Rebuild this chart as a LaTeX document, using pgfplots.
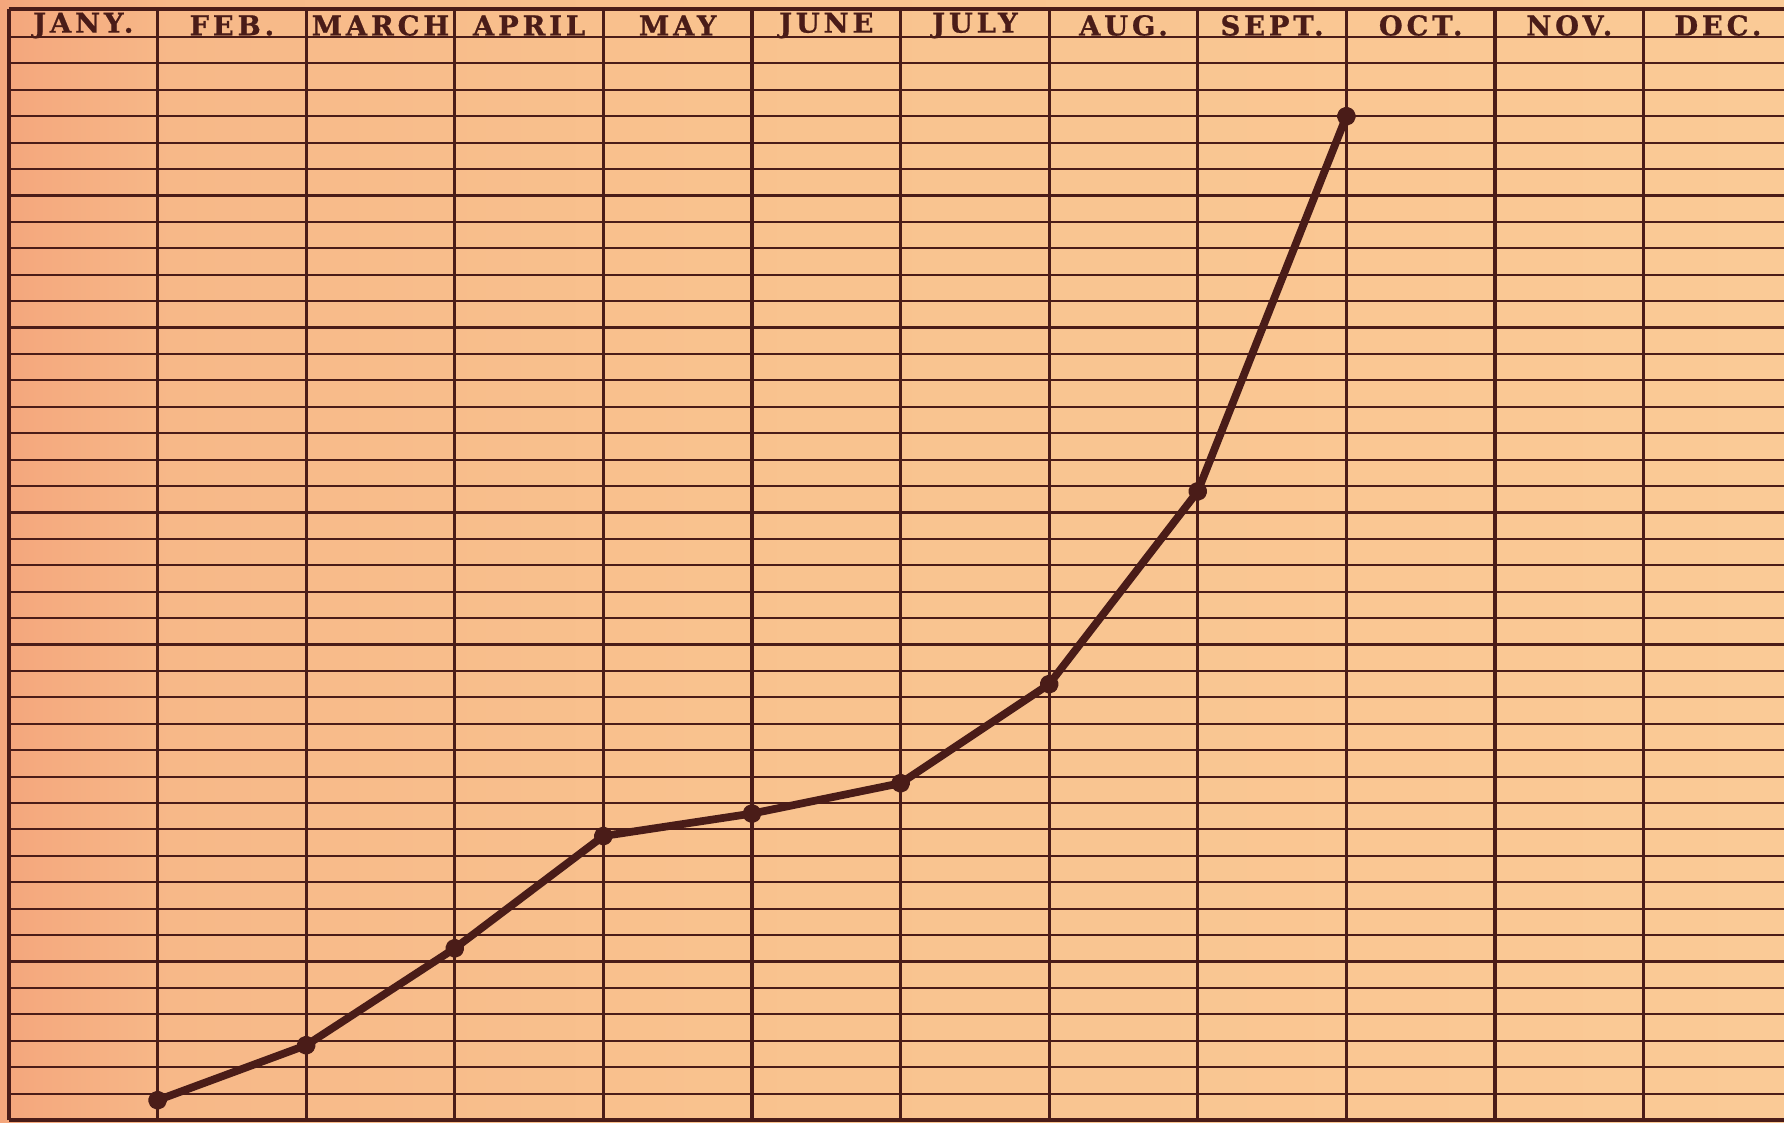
\documentclass[border=0pt]{standalone}
\usepackage{pgfplots}
\pgfplotsset{compat=1.18}
\usepackage{fontspec}
\newfontfamily\headfont{DejaVu Serif}[LetterSpace=14, BoldFeatures={FakeBold=0.8}]
\definecolor{ink}{RGB}{74,28,24}
\definecolor{paperA}{RGB}{244,166,124}
\definecolor{paperB}{RGB}{247,184,136}
\definecolor{paperC}{RGB}{249,194,142}
\definecolor{paperD}{RGB}{250,202,150}

\begin{document}
\begin{tikzpicture}[x=1mm,y=1mm]
% the ruled sheet
\path[use as bounding box] (-0.9,-0.3) rectangle (177.5,112);
\shade[left color=paperA, right color=paperB] (-0.9,-0.3) rectangle (16.1,112);
\shade[left color=paperB, right color=paperC] (16,-0.3) rectangle (70.1,112);
\shade[left color=paperC, right color=paperD] (70,-0.3) rectangle (177.5,112);
\begin{axis}[
  at={(0,0)}, anchor=south west,
  scale only axis, width=177.5mm, height=111.1mm,
  xmin=0, xmax=11.945, ymin=0, ymax=42.06,
  axis x line*=box, axis y line*=left,
  axis line style={ink, line width=1.2pt},
  xtick={0.5,1.5,...,11.5},
  xticklabels={JANY.,FEB.,MARCH,APRIL,MAY,JUNE,JULY,AUG.,SEPT.,OCT.,NOV.,DEC.},
  xticklabel pos=upper,
  xticklabel style={anchor=center, yshift=-1.65mm, text=ink,
    font=\headfont\bfseries\fontsize{7.8}{7.8}\selectfont},
  minor xtick={1,...,11},
  xminorgrids,
  minor grid style={ink, line width=0.9pt},
  ytick={1,...,41},
  yticklabels={},
  yticklabel style={overlay},
  ymajorgrids,
  major grid style={ink, line width=0.6pt},
  major tick length=0pt, minor tick length=0pt,
]
\addplot[ink, line width=2.2pt, line join=round, mark=*, mark size=1.6pt]
  coordinates {(1,0.75) (2,2.83) (3,6.5) (4,10.75) (5,11.6) (6,12.75) (7,16.5) (8,23.8) (9,38.0)};
\end{axis}
\end{tikzpicture}
\end{document}
